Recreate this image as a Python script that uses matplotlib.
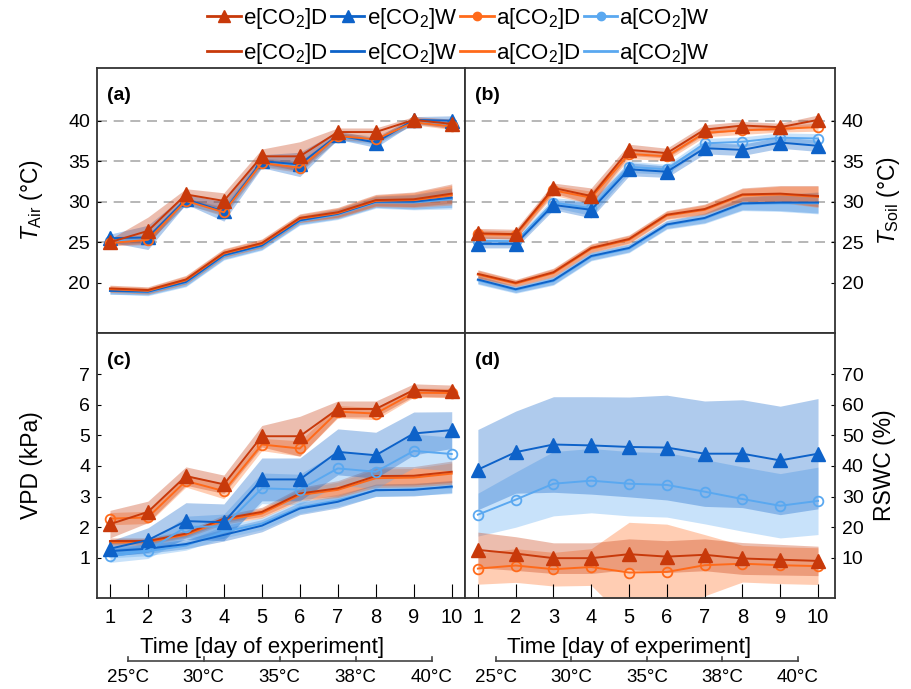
import numpy as np
import matplotlib
matplotlib.use("Agg")
import matplotlib.pyplot as plt
from matplotlib.lines import Line2D

plt.rcParams['font.family'] = ['Liberation Sans', 'DejaVu Sans']
plt.rcParams['mathtext.fontset'] = 'custom'
plt.rcParams['mathtext.rm'] = 'Liberation Sans'
plt.rcParams['mathtext.it'] = 'Liberation Sans:italic'

days = np.arange(1, 11)
temp_labels = ['25°C', '30°C', '35°C', '38°C', '40°C']
temp_pos = [1.47, 3.47, 5.47, 7.47, 9.47]

# (a) air temperature, marker series
eD_a = [25.0, 26.4, 30.9, 30.1, 35.6, 35.6, 38.6, 38.6, 40.1, 39.6]
eW_a = [25.5, 25.6, 30.3, 28.8, 35.0, 34.6, 38.2, 37.3, 40.1, 40.0]
aD_a = [24.9, 25.3, 30.1, 28.7, 34.8, 34.2, 38.1, 37.7, 39.8, 39.3]
aW_a = [25.1, 25.4, 30.0, 28.9, 34.9, 34.4, 38.0, 37.5, 39.8, 39.5]
sd_eD_a = [0.4, 1.7, 0.7, 1.0, 0.9, 1.8, 0.5, 0.5, 0.4, 0.6]
sd_eW_a = [0.5, 1.5, 0.6, 1.2, 0.8, 1.5, 0.5, 0.6, 0.4, 0.6]
sd_aD_a = [0.3, 0.4, 0.4, 0.5, 0.5, 0.6, 0.4, 0.4, 0.3, 0.4]
sd_aW_a = [0.3, 0.4, 0.4, 0.5, 0.5, 0.6, 0.4, 0.4, 0.3, 0.4]
# (a) line-only series
eDl_a = [19.3, 19.1, 20.4, 23.7, 24.9, 28.0, 28.7, 30.2, 30.3, 31.0]
eWl_a = [19.0, 18.9, 20.1, 23.4, 24.6, 27.7, 28.5, 30.0, 30.0, 30.5]
aDl_a = [19.2, 19.0, 20.3, 23.6, 24.8, 27.9, 28.6, 30.1, 30.2, 30.8]
aWl_a = [19.0, 18.8, 20.0, 23.3, 24.5, 27.6, 28.4, 29.9, 29.9, 30.3]
sdl_a = [0.4, 0.4, 0.5, 0.5, 0.5, 0.5, 0.6, 0.7, 0.9, 1.2]

# (b) soil temperature
eD_b = [26.1, 26.0, 31.7, 30.7, 36.4, 36.0, 38.9, 39.4, 39.2, 40.1]
aD_b = [26.0, 25.9, 31.4, 30.5, 35.9, 35.6, 38.5, 38.8, 39.0, 39.2]
eW_b = [24.8, 24.8, 29.6, 29.0, 34.0, 33.7, 36.6, 36.4, 37.3, 36.9]
aW_b = [25.2, 25.1, 29.9, 29.2, 34.3, 34.0, 37.2, 37.4, 37.9, 37.8]
sd_eD_b = [0.6, 0.6, 0.6, 1.0, 0.7, 0.6, 0.6, 0.5, 0.5, 0.6]
sd_aD_b = [0.5, 0.5, 0.6, 0.8, 0.6, 0.5, 0.5, 0.5, 0.4, 0.5]
sd_eW_b = [0.5, 0.5, 0.6, 1.0, 0.8, 0.7, 0.7, 0.7, 0.7, 0.7]
sd_aW_b = [0.5, 0.5, 0.6, 0.9, 0.7, 0.6, 0.6, 0.6, 0.6, 0.6]
eDl_b = [21.1, 20.0, 21.3, 24.3, 25.4, 28.4, 29.1, 30.9, 31.0, 30.7]
aDl_b = [21.0, 19.9, 21.2, 24.2, 25.3, 28.3, 29.0, 30.8, 30.9, 30.6]
eWl_b = [20.4, 19.2, 20.3, 23.3, 24.3, 27.2, 28.0, 29.8, 29.9, 29.9]
aWl_b = [20.3, 19.1, 20.2, 23.2, 24.2, 27.1, 27.9, 29.7, 29.8, 29.8]
sdl_b = [0.5, 0.4, 0.5, 0.5, 0.5, 0.5, 0.6, 0.8, 1.0, 1.3]

# (c) VPD
eD_c = [2.10, 2.50, 3.67, 3.40, 4.97, 4.97, 5.86, 5.86, 6.48, 6.44]
aD_c = [2.28, 2.32, 3.51, 3.18, 4.70, 4.57, 5.77, 5.71, 6.39, 6.38]
eW_c = [1.30, 1.58, 2.20, 2.16, 3.56, 3.56, 4.46, 4.35, 5.06, 5.17]
aW_c = [1.05, 1.23, 2.01, 2.03, 3.27, 3.23, 3.92, 3.81, 4.49, 4.39]
sd_eD_c = [0.45, 0.35, 0.3, 0.3, 0.35, 0.65, 0.26, 0.26, 0.2, 0.2]
sd_aD_c = [0.2, 0.2, 0.2, 0.25, 0.2, 0.25, 0.2, 0.2, 0.15, 0.15]
sd_eW_c = [0.25, 0.4, 0.6, 0.6, 0.7, 0.7, 0.75, 0.75, 0.7, 0.6]
sd_aW_c = [0.2, 0.25, 0.35, 0.4, 0.5, 0.5, 0.55, 0.55, 0.55, 0.55]
eDl_c = [1.55, 1.55, 1.79, 2.28, 2.50, 3.10, 3.27, 3.67, 3.68, 3.81]
aDl_c = [1.50, 1.52, 1.75, 2.22, 2.45, 3.05, 3.22, 3.60, 3.62, 3.75]
eWl_c = [1.22, 1.30, 1.45, 1.75, 2.05, 2.61, 2.83, 3.21, 3.22, 3.33]
aWl_c = [1.15, 1.22, 1.40, 1.85, 2.12, 2.65, 2.88, 3.20, 3.24, 3.30]
sdl_D_c = [0.1, 0.1, 0.1, 0.12, 0.15, 0.2, 0.25, 0.3, 0.3, 0.35]
sdl_W_c = [0.15, 0.15, 0.15, 0.2, 0.2, 0.2, 0.2, 0.2, 0.2, 0.2]

# (d) RSWC
eW_d = [38.8, 44.5, 47.0, 46.7, 46.2, 46.0, 44.0, 44.0, 41.8, 44.0]
aW_d = [24.1, 29.0, 34.2, 35.2, 34.2, 33.8, 31.6, 29.2, 27.0, 28.6]
eD_d = [12.6, 11.4, 9.9, 9.9, 11.2, 10.4, 11.0, 9.8, 9.4, 9.0]
aD_d = [6.5, 7.5, 6.3, 7.0, 5.2, 5.4, 7.6, 8.1, 7.6, 7.3]
sd_eW_d = [13.1, 13.4, 15.6, 15.9, 16.3, 17.1, 17.2, 17.6, 17.7, 18.0]
sd_aW_d = [7.0, 9.0, 10.5, 10.5, 10.5, 10.5, 10.5, 10.5, 10.5, 11.0]
sd_eD_d = [5.8, 5.5, 5.0, 5.0, 5.0, 5.2, 5.2, 5.2, 5.0, 4.8]
sd_aD_d = [5.1, 5.5, 5.5, 6.0, 16.4, 15.6, 10.0, 6.0, 6.0, 6.0]

c_eD = '#c8390a'
c_eW = '#0d62c9'
c_aD = '#ff6a1a'
c_aW = '#5aa8f0'
ALPHA = 0.33


def band(ax, y, sd, color):
    y = np.array(y)
    sd = np.array(sd)
    ax.fill_between(days, y - sd, y + sd, color=color, alpha=ALPHA, lw=0)


def line(ax, y, color, marker=None):
    if marker == '^':
        ax.plot(days, y, color=color, lw=1.4, marker='^', ms=10, mfc=color, mec=color)
    elif marker == 'o':
        ax.plot(days, y, color=color, lw=1.4, marker='o', ms=7, mfc='none', mec=color, mew=1.3)
    else:
        ax.plot(days, y, color=color, lw=1.4)


fig = plt.figure(figsize=(9.12, 6.89), dpi=100)
axa = fig.add_axes([0.1064, 0.5167, 0.4035, 0.3846])
axb = fig.add_axes([0.5099, 0.5167, 0.4057, 0.3846])
axc = fig.add_axes([0.1064, 0.1321, 0.4035, 0.3846])
axd = fig.add_axes([0.5099, 0.1321, 0.4057, 0.3846])

# panel (a)
for y, sd, c in [(eWl_a, sdl_a, c_eW), (aWl_a, sdl_a, c_aW), (eDl_a, sdl_a, c_eD), (aDl_a, sdl_a, c_aD),
                 (aW_a, sd_aW_a, c_aW), (aD_a, sd_aD_a, c_aD), (eW_a, sd_eW_a, c_eW), (eD_a, sd_eD_a, c_eD)]:
    band(axa, y, sd, c)
line(axa, aWl_a, c_aW); line(axa, eWl_a, c_eW); line(axa, aDl_a, c_aD); line(axa, eDl_a, c_eD)
line(axa, aW_a, c_aW, 'o'); line(axa, eW_a, c_eW, '^'); line(axa, aD_a, c_aD, 'o'); line(axa, eD_a, c_eD, '^')

# panel (b)
for y, sd, c in [(eWl_b, sdl_b, c_eW), (aWl_b, sdl_b, c_aW), (eDl_b, sdl_b, c_eD), (aDl_b, sdl_b, c_aD),
                 (aW_b, sd_aW_b, c_aW), (eW_b, sd_eW_b, c_eW), (aD_b, sd_aD_b, c_aD), (eD_b, sd_eD_b, c_eD)]:
    band(axb, y, sd, c)
line(axb, aWl_b, c_aW); line(axb, eWl_b, c_eW); line(axb, aDl_b, c_aD); line(axb, eDl_b, c_eD)
line(axb, aW_b, c_aW, 'o'); line(axb, eW_b, c_eW, '^'); line(axb, aD_b, c_aD, 'o'); line(axb, eD_b, c_eD, '^')

# panel (c)
for y, sd, c in [(eWl_c, sdl_W_c, c_eW), (aWl_c, sdl_W_c, c_aW), (eDl_c, sdl_D_c, c_eD), (aDl_c, sdl_D_c, c_aD),
                 (aW_c, sd_aW_c, c_aW), (eW_c, sd_eW_c, c_eW), (aD_c, sd_aD_c, c_aD), (eD_c, sd_eD_c, c_eD)]:
    band(axc, y, sd, c)
line(axc, aDl_c, c_aD); line(axc, eDl_c, c_eD); line(axc, aWl_c, c_aW); line(axc, eWl_c, c_eW)
line(axc, aW_c, c_aW, 'o'); line(axc, eW_c, c_eW, '^'); line(axc, aD_c, c_aD, 'o'); line(axc, eD_c, c_eD, '^')

# panel (d)
for y, sd, c in [(aW_d, sd_aW_d, c_aW), (eW_d, sd_eW_d, c_eW), (aD_d, sd_aD_d, c_aD), (eD_d, sd_eD_d, c_eD)]:
    band(axd, y, sd, c)
line(axd, aW_d, c_aW, 'o'); line(axd, eW_d, c_eW, '^'); line(axd, aD_d, c_aD, 'o'); line(axd, eD_d, c_eD, '^')

for ax in [axa, axb]:
    ax.set_ylim(13.8, 46.5)
    for g in [25, 30, 35, 40]:
        ax.axhline(g, color='#aaaaaa', lw=1.2, ls=(0, (6, 4)), zorder=0)
    ax.set_yticks([20, 25, 30, 35, 40])
    ax.tick_params(axis='x', bottom=False, labelbottom=False)
axc.set_ylim(-0.31, 8.34)
axc.set_yticks(range(1, 8))
axd.set_ylim(-3.1, 83.4)
axd.set_yticks(range(10, 80, 10))

for ax in [axa, axc]:
    ax.set_xlim(0.66, 10.35)
    ax.tick_params(axis='y', direction='in', length=3, labelsize=14, pad=5)
for ax in [axb, axd]:
    ax.set_xlim(0.66, 10.45)
    ax.yaxis.tick_right()
    ax.yaxis.set_label_position('right')
    ax.tick_params(axis='y', direction='in', length=3, labelsize=14, pad=5)

for ax in [axc, axd]:
    ax.set_xticks(days)
    ax.tick_params(axis='x', direction='in', length=10, labelsize=14.5, pad=7)
    ax.text(5.0, -0.185, 'Time [day of experiment]', transform=ax.get_xaxis_transform(),
            ha='center', va='center', fontsize=16)
    ax.plot([temp_pos[0], temp_pos[-1]], [-0.238, -0.238], transform=ax.get_xaxis_transform(),
            clip_on=False, color='#444444', lw=1.2)
    for p, t in zip(temp_pos, temp_labels):
        ax.plot([p, p], [-0.238, -0.222], transform=ax.get_xaxis_transform(),
                clip_on=False, color='#444444', lw=1.2)
        ax.text(p, -0.30, t, transform=ax.get_xaxis_transform(), ha='center', va='center', fontsize=13.5)

for ax, lab in zip([axa, axb, axc, axd], ['(a)', '(b)', '(c)', '(d)']):
    for s in ax.spines.values():
        s.set_linewidth(1.3)
        s.set_color('#333333')
    ax.text(0.027, 0.895, lab, transform=ax.transAxes, fontsize=14, fontweight='bold', va='center')

axa.set_ylabel(r'$T_{\mathrm{Air}}$ (°C)', fontsize=16.5)
axa.yaxis.set_label_coords(-0.141, 0.5)
axb.set_ylabel(r'$T_{\mathrm{Soil}}$ (°C)', fontsize=16.5, rotation=90)
axb.yaxis.set_label_coords(1.108, 0.5)
axc.set_ylabel('VPD (kPa)', fontsize=16.5)
axc.yaxis.set_label_coords(-0.146, 0.5)
axd.set_ylabel('RSWC (%)', fontsize=16.5, rotation=90)
axd.yaxis.set_label_coords(1.103, 0.5)

# legend: column-major, so marker entry then line entry per treatment
handles = []
labels = []
for c, mk, lab in [(c_eD, '^', 'e[CO$_2$]D'), (c_eW, '^', 'e[CO$_2$]W'),
                   (c_aD, 'o', 'a[CO$_2$]D'), (c_aW, 'o', 'a[CO$_2$]W')]:
    if mk == '^':
        handles.append(Line2D([], [], color=c, lw=2, marker='^', ms=9, mfc=c, mec=c))
    else:
        handles.append(Line2D([], [], color=c, lw=2, marker='o', ms=6, mfc=c, mec=c))
    labels.append(lab)
    handles.append(Line2D([], [], color=c, lw=2))
    labels.append(lab)
fig.legend(handles, labels, ncol=4, loc='upper center', bbox_to_anchor=(0.503, 1.02),
           frameon=False, fontsize=16, handlelength=1.5, handletextpad=0.1,
           columnspacing=0.15, labelspacing=0.45)

fig.savefig('out.png', dpi=100)
